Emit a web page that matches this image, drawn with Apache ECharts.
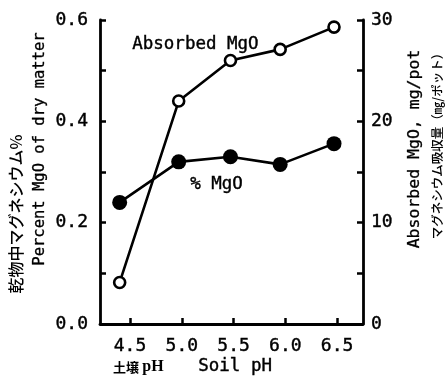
<!DOCTYPE html>
<html>
<head>
<meta charset="utf-8">
<script src="https://cdn.jsdelivr.net/npm/echarts@6/dist/echarts.min.js"></script>
<style>
html,body{margin:0;padding:0;background:#fff;}
#chart{width:445px;height:381px;}
</style>
</head>
<body>
<div id="chart"></div>
<script>
// Data
var soilPH = [4.4, 4.97, 5.47, 5.95, 6.47];
var percentMgO = [0.24, 0.32, 0.33, 0.315, 0.356];
var absorbedMgO = [4.1, 22.0, 26.0, 27.1, 29.3];
var xTicks = [4.5, 5.0, 5.5, 6.0, 6.5];

var MONO = '"DejaVu Sans Mono", monospace';
var CJK = '"Noto Sans CJK JP", sans-serif';

function pairs(xs, ys) {
  return xs.map(function (x, i) { return [x, ys[i]]; });
}

var labelStyle = {color: '#000', fontFamily: MONO, fontSize: 18, textBorderColor: '#000', textBorderWidth: 0.4};

var chart = echarts.init(document.getElementById('chart'), null, {renderer: 'canvas'});
chart.setOption({
  backgroundColor: '#fff',
  animation: false,
  grid: {left: 100, right: 82, top: 20, bottom: 57},
  xAxis: {
    type: 'value', min: 4.21, max: 6.75,
    axisLine: {show: true, onZero: false, lineStyle: {color: '#000', width: 2.8}},
    axisTick: {show: true, inside: true, length: 6, lineStyle: {color: '#000', width: 2.5}, customValues: xTicks},
    axisLabel: Object.assign({}, labelStyle, {margin: 13, customValues: xTicks,
      formatter: function (v) { return v.toFixed(1); }}),
    splitLine: {show: false}
  },
  yAxis: [{
    type: 'value', min: 0, max: 0.6, interval: 0.1, position: 'left',
    axisLine: {show: true, lineStyle: {color: '#000', width: 2.8}},
    axisTick: {show: true, inside: true, length: 6, lineStyle: {color: '#000', width: 2.5}},
    axisLabel: Object.assign({}, labelStyle, {margin: 12,
      formatter: function (v) { return Math.round(v * 10) % 2 === 0 ? v.toFixed(1) : ''; }}),
    splitLine: {show: false}
  }, {
    type: 'value', min: 0, max: 30, interval: 5, position: 'right',
    axisLine: {show: true, lineStyle: {color: '#000', width: 2.8}},
    axisTick: {show: true, inside: true, length: 6, lineStyle: {color: '#000', width: 2.5}},
    axisLabel: Object.assign({}, labelStyle, {margin: 8,
      formatter: function (v) { return v % 10 === 0 ? String(v) : ''; }}),
    splitLine: {show: false}
  }],
  series: [{
    name: '% MgO', type: 'line', yAxisIndex: 0,
    data: pairs(soilPH, percentMgO),
    symbol: 'circle', symbolSize: 15,
    lineStyle: {color: '#000', width: 2.6},
    itemStyle: {color: '#000', borderColor: '#000', borderWidth: 0}
  }, {
    name: 'Absorbed MgO', type: 'line', yAxisIndex: 1,
    data: pairs(soilPH, absorbedMgO),
    symbol: 'circle', symbolSize: 11,
    lineStyle: {color: '#000', width: 2.6},
    itemStyle: {color: '#fff', borderColor: '#000', borderWidth: 2.6},
    z: 3
  }],
  graphic: [
    {type: 'text', left: 132, top: 35, style: {text: 'Absorbed MgO', font: '17.5px ' + MONO, fill: '#000', stroke: '#000', lineWidth: 0.4}},
    {type: 'text', left: 190, top: 175, style: {text: '% MgO', font: '17.5px ' + MONO, fill: '#000', stroke: '#000', lineWidth: 0.4}},
    // left axis names
    {type: 'text', x: 40, y: 149, rotation: Math.PI / 2,
      style: {text: 'Percent MgO of dry matter', font: '15.5px ' + MONO, fill: '#000', stroke: '#000', lineWidth: 0.3, align: 'center', verticalAlign: 'middle'}},
    {type: 'text', x: 16, y: 214, rotation: Math.PI / 2,
      style: {text: '乾物中マグネシウム%', font: '500 16px ' + CJK, fill: '#000', align: 'center', verticalAlign: 'middle'}},
    // right axis names
    {type: 'text', x: 415, y: 149, rotation: Math.PI / 2,
      style: {text: 'Absorbed MgO, mg/pot', font: '16.5px ' + MONO, fill: '#000', stroke: '#000', lineWidth: 0.3, align: 'center', verticalAlign: 'middle'}},
    {type: 'text', x: 437, y: 143, rotation: Math.PI / 2,
      style: {text: 'マグネシウム吸収量（㎎/ポット）', font: '500 12.5px ' + CJK, fill: '#000', align: 'center', verticalAlign: 'middle'}},
    // x axis names
    {type: 'text', left: 113, top: 359, style: {
      text: '{a|土壌} {b|pH}', fill: '#000',
      rich: {a: {fontFamily: CJK, fontSize: 13, fontWeight: 'bold', fill: '#000'},
             b: {fontFamily: '"Liberation Serif", serif', fontSize: 16, fontWeight: 'bold', fill: '#000'}}}},
    {type: 'text', left: 198, top: 357, style: {text: 'Soil pH', font: '17.5px ' + MONO, fill: '#000', stroke: '#000', lineWidth: 0.4}}
  ]
});
</script>
</body>
</html>
